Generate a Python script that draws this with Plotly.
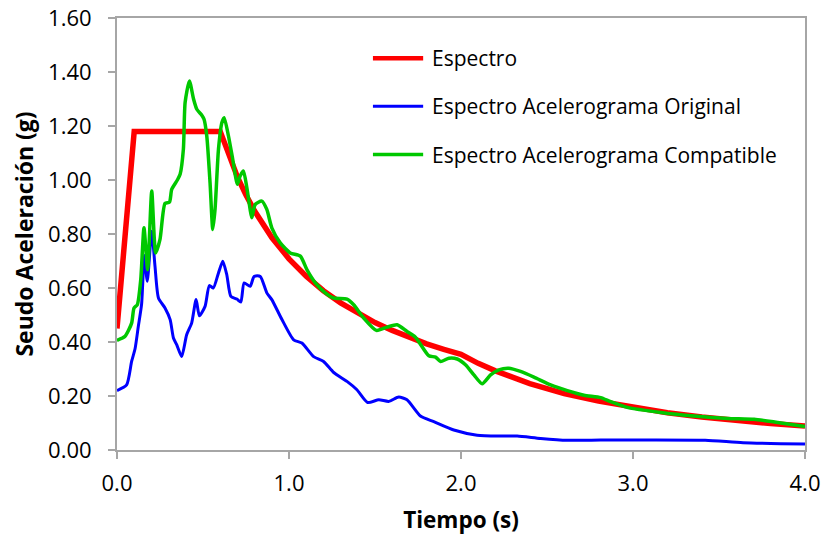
import plotly.graph_objects as go

# Espectro (design spectrum)
esp_t = [0, 0.1, 0.6, 0.65, 0.7, 0.75, 0.8, 0.9, 1.0, 1.1, 1.2, 1.3, 1.4, 1.5, 1.6, 1.7, 1.8, 1.9,
         2.0, 2.1, 2.2, 2.4, 2.6, 2.8, 3.0, 3.2, 3.4, 3.6, 3.8, 4.0]
esp_sa = [0.45, 1.18, 1.18, 1.089, 1.011, 0.944, 0.885, 0.787, 0.708, 0.644, 0.590, 0.545, 0.506,
          0.472, 0.443, 0.416, 0.393, 0.373, 0.354, 0.321, 0.293, 0.246, 0.209, 0.181, 0.157,
          0.138, 0.122, 0.109, 0.098, 0.089]

# Espectro Acelerograma Original
ori_t = [0, 0.056, 0.085, 0.105, 0.124, 0.143, 0.159, 0.176, 0.202, 0.221, 0.241, 0.279, 0.309,
         0.328, 0.347, 0.376, 0.405, 0.434, 0.46, 0.479, 0.512, 0.537, 0.56, 0.59, 0.615, 0.638,
         0.662, 0.697, 0.72, 0.739, 0.774, 0.797, 0.833, 0.871, 0.9, 0.959, 1.027, 1.075, 1.143,
         1.201, 1.26, 1.337, 1.395, 1.457, 1.522, 1.58, 1.638, 1.686, 1.764, 1.842, 1.958, 2.094,
         2.23, 2.327, 2.463, 2.618, 2.812, 2.97, 3.42, 3.64, 4.0]
ori_sa = [0.22, 0.241, 0.328, 0.375, 0.458, 0.54, 0.72, 0.625, 0.81, 0.68, 0.563, 0.526, 0.483,
          0.415, 0.39, 0.346, 0.427, 0.47, 0.557, 0.497, 0.532, 0.609, 0.6, 0.656, 0.699, 0.65,
          0.569, 0.559, 0.548, 0.619, 0.606, 0.643, 0.643, 0.582, 0.557, 0.483, 0.408, 0.396, 0.346,
          0.328, 0.287, 0.254, 0.223, 0.176, 0.186, 0.18, 0.196, 0.186, 0.126, 0.105, 0.074, 0.055,
          0.052, 0.052, 0.043, 0.036, 0.037, 0.037, 0.036, 0.027, 0.022]

# Espectro Acelerograma Compatible
com_t = [0, 0.047, 0.085, 0.099, 0.118, 0.138, 0.157, 0.178, 0.202, 0.225, 0.25, 0.279, 0.305,
         0.318, 0.351, 0.367, 0.386, 0.396, 0.421, 0.445, 0.464, 0.493, 0.506, 0.522, 0.541, 0.557,
         0.57, 0.59, 0.61, 0.623, 0.648, 0.673, 0.7, 0.716, 0.735, 0.755, 0.774, 0.784, 0.803,
         0.842, 0.871, 0.9, 0.949, 1.007, 1.066, 1.104, 1.153, 1.211, 1.26, 1.337, 1.376, 1.434,
         1.508, 1.57, 1.628, 1.686, 1.735, 1.813, 1.852, 1.881, 1.93, 1.978, 2.026, 2.075, 2.123,
         2.172, 2.22, 2.278, 2.346, 2.424, 2.521, 2.618, 2.715, 2.812, 2.87, 2.967, 3.162, 3.356,
         3.55, 3.705, 3.841, 4.0]
com_sa = [0.406, 0.421, 0.47, 0.526, 0.538, 0.631, 0.823, 0.668, 0.959, 0.73, 0.78, 0.913, 0.918,
          0.965, 1.0, 1.021, 1.114, 1.287, 1.367, 1.3, 1.262, 1.24, 1.225, 1.163, 0.99, 0.817,
          0.891, 1.114, 1.213, 1.231, 1.163, 1.076, 0.984, 1.015, 1.033, 0.971, 0.891, 0.86, 0.909,
          0.922, 0.891, 0.823, 0.767, 0.73, 0.718, 0.668, 0.619, 0.582, 0.563, 0.559, 0.538, 0.489,
          0.443, 0.455, 0.464, 0.439, 0.418, 0.349, 0.344, 0.328, 0.34, 0.337, 0.316, 0.278, 0.245,
          0.278, 0.297, 0.303, 0.291, 0.27, 0.241, 0.22, 0.203, 0.194, 0.179, 0.158, 0.139, 0.126,
          0.117, 0.114, 0.102, 0.087]

names = ["Espectro", "Espectro Acelerograma Original", "Espectro Acelerograma Compatible"]
colors = ["#ff0000", "#0000ff", "#00c800"]
widths = [5.5, 3, 3.5]

FONT = "Open Sans"

fig = go.Figure()
fig.add_trace(go.Scatter(x=esp_t, y=esp_sa, mode="lines", name=names[0],
                         line=dict(color=colors[0], width=widths[0]), showlegend=False))
fig.add_trace(go.Scatter(x=ori_t, y=ori_sa, mode="lines", name=names[1],
                         line=dict(color=colors[1], width=widths[1], shape="spline", smoothing=0.6),
                         showlegend=False))
fig.add_trace(go.Scatter(x=com_t, y=com_sa, mode="lines", name=names[2],
                         line=dict(color=colors[2], width=widths[2], shape="spline", smoothing=0.6),
                         showlegend=False))

# custom legend (longer line samples, like the original)
leg_y = [0.907, 0.796, 0.684]
for nm, c, w, yy in zip(names, colors, widths, leg_y):
    fig.add_shape(type="line", xref="paper", yref="paper", x0=0.372, x1=0.445, y0=yy, y1=yy,
                  line=dict(color=c, width=min(w, 4.5)))
    fig.add_annotation(xref="paper", yref="paper", x=0.455, y=yy, text=nm, showarrow=False,
                       xanchor="left", yanchor="middle", font=dict(family=FONT, size=21, color="#000"))

axis_common = dict(showline=True, linecolor="#a6a6a6", linewidth=2, mirror=True,
                   ticks="outside", ticklen=7, tickwidth=2, tickcolor="#a6a6a6",
                   showgrid=False, zeroline=False, automargin=False,
                   tickfont=dict(family=FONT, size=22, color="#000"))

fig.update_xaxes(range=[0, 4], tickvals=[0, 1, 2, 3, 4], tickformat=".1f",
                 ticklabelstandoff=6,
                 title=dict(text="<b>Tiempo (s)</b>", font=dict(family=FONT, size=22.5, color="#000"),
                            standoff=16),
                 **axis_common)
fig.update_yaxes(range=[0, 1.6], tickvals=[0, 0.2, 0.4, 0.6, 0.8, 1.0, 1.2, 1.4, 1.6],
                 tickformat=".2f", ticklabelstandoff=12,
                 title=dict(text="<b>Seudo Aceleración (g)</b>",
                            font=dict(family=FONT, size=23, color="#000"), standoff=8),
                 **axis_common)

fig.update_layout(width=824, height=539, margin=dict(l=117, r=19, t=18, b=89),
                  paper_bgcolor="white", plot_bgcolor="white", showlegend=False)

fig.write_html("out.html")
